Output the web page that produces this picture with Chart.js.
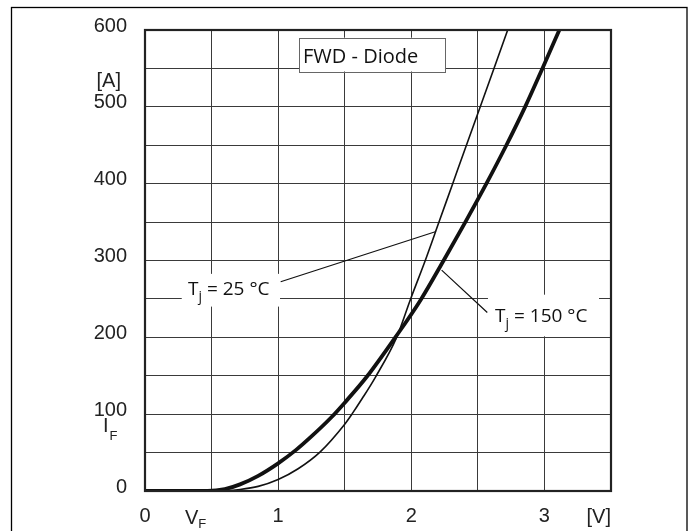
<!DOCTYPE html>
<html><head><meta charset="utf-8">
<script src="https://cdn.jsdelivr.net/npm/chart.js@4/dist/chart.umd.min.js"></script>
<style>html,body{margin:0;padding:0;background:#fff}#wrap{width:697px;height:531px}</style>
</head><body><div id="wrap"><canvas id="c" width="697" height="531"></canvas></div>
<script>
// Forward characteristic of the FWD diode: V_F [V] vs I_F [A]
const vF25  = [0, 0.5, 0.6, 0.714, 0.85, 1.0, 1.15, 1.316, 1.5, 1.554, 1.63, 1.73, 1.89, 1.995, 2.105, 2.208, 2.311, 2.414, 2.518, 2.621, 2.724];
const iF25  = [0, 0,   0.4, 2,     6,    15,  29,   51,    87,  100,   120,  148,  200,  250,   300,   350,   400,   450,   500,   550,   600];
const vF150 = [0, 0.47, 0.6, 0.714, 0.85, 1.0, 1.135, 1.25, 1.4, 1.5, 1.667, 1.88, 2.068, 2.243, 2.406, 2.564, 2.714, 2.855, 2.985, 3.112];
const iF150 = [0, 0,    2.4, 8.6,   19.7, 36,  53.5,  71,   96,  115, 149,   200,  248,   300,   350,   400,   450,   500,   550,   600];
const xTickValues = [0, 1, 2, 3];
const yTickValues = [0, 100, 200, 300, 400, 500, 600];
const seriesNames = ['T_j = 25 °C', 'T_j = 150 °C'];
const titleText = 'FWD - Diode';

const pts = (xs, ys) => xs.map((x, i) => ({x: x, y: ys[i]}));

const TICK_FAMILY = '"Liberation Sans", Arial, sans-serif';
const TICK_FONT = '20px ' + TICK_FAMILY;
const SUB_FONT = '13px ' + TICK_FAMILY;
const NOTE_FONT = '19px "Open Sans", sans-serif';
const TITLE_FONT = '20px "Open Sans", sans-serif';
const NOTE_SUB = '14px "Open Sans", sans-serif';
const INK = '#111';

function noteLabel(ctx, txt, x, y) {
  const parts = txt.split('_');
  const rest = parts[1].slice(1);
  ctx.font = NOTE_FONT; ctx.fillText(parts[0], x, y);
  let w = ctx.measureText(parts[0]).width;
  ctx.font = NOTE_SUB; ctx.fillText(parts[1][0], x + w, y + 6);
  w += ctx.measureText(parts[1][0]).width;
  ctx.font = NOTE_FONT; ctx.fillText(rest, x + w, y);
}

const deco = {
  id: 'deco',
  beforeDraw(chart) {
    const ctx = chart.ctx;
    ctx.save();
    ctx.fillStyle = '#fff'; ctx.fillRect(0, 0, chart.width, chart.height);
    ctx.strokeStyle = '#000'; ctx.lineWidth = 1.3;
    ctx.strokeRect(11.5, 7.5, 675.5, 540);
    ctx.restore();
  },
  beforeDatasetsDraw(chart) {
    const ctx = chart.ctx, X = chart.scales.x, Y = chart.scales.y;
    const px = v => X.getPixelForValue(v), py = v => Y.getPixelForValue(v);
    ctx.save();
    ctx.fillStyle = '#fff';
    ctx.fillRect(px(0.276), py(282.6), px(1.014) - px(0.276), py(240) - py(282.6));
    ctx.fillRect(px(2.576), py(255.5), px(3.41) - px(2.576), py(201.3) - py(255.5));
    ctx.strokeStyle = INK; ctx.lineWidth = 1.2;
    ctx.beginPath();
    ctx.moveTo(px(1.019), py(272.3)); ctx.lineTo(px(2.186), py(337.7));
    ctx.moveTo(px(2.571), py(232.3)); ctx.lineTo(px(2.228), py(287.4));
    ctx.stroke();
    const bx = px(1.157), by = py(590), bw = px(2.253) - bx, bh = py(546) - by;
    ctx.fillStyle = '#fff'; ctx.fillRect(bx, by, bw, bh);
    ctx.strokeStyle = '#666'; ctx.lineWidth = 1;
    ctx.strokeRect(Math.round(bx) + 0.5, Math.round(by) + 0.5, Math.round(bw), Math.round(bh));
    ctx.fillStyle = INK; ctx.textBaseline = 'alphabetic'; ctx.textAlign = 'left';
    ctx.font = TITLE_FONT; ctx.fillText(titleText, px(1.187), py(557.4));
    noteLabel(ctx, seriesNames[0], px(0.323), py(255.5));
    noteLabel(ctx, seriesNames[1], px(2.629), py(219.4));
    ctx.restore();
  },
  afterDatasetsDraw(chart) {
    const ctx = chart.ctx, a = chart.chartArea;
    ctx.save();
    ctx.strokeStyle = '#222'; ctx.lineWidth = 2.2;
    ctx.strokeRect(a.left, a.top, a.right - a.left, a.bottom - a.top);
    ctx.restore();
  },
  afterDraw(chart) {
    const ctx = chart.ctx, X = chart.scales.x, Y = chart.scales.y;
    ctx.save();
    ctx.fillStyle = '#222';
    ctx.textBaseline = 'alphabetic';
    ctx.font = TICK_FONT;
    ctx.textAlign = 'right';
    ctx.fillText('[A]', 121, Y.getPixelForValue(535) + 7);
    ctx.fillText('[V]', X.getPixelForValue(3.5), 523);
    ctx.textAlign = 'left';
    const yI = Y.getPixelForValue(86) + 7;
    ctx.fillText('I', 103, yI);
    const wI = ctx.measureText('I').width;
    const xV = X.getPixelForValue(0.3);
    ctx.fillText('V', xV, 524);
    const wV = ctx.measureText('V').width;
    ctx.font = SUB_FONT;
    ctx.fillText('F', 103 + wI + 1, yI + 8);
    ctx.fillText('F', xV + wV, 528);
    ctx.restore();
  }
};

new Chart(document.getElementById('c'), {
  type: 'line',
  data: {
    datasets: [
      { label: seriesNames[0], data: pts(vF25, iF25), borderColor: INK, borderWidth: 1.6, pointRadius: 0, cubicInterpolationMode: 'monotone', fill: false },
      { label: seriesNames[1], data: pts(vF150, iF150), borderColor: INK, borderWidth: 3.8, pointRadius: 0, cubicInterpolationMode: 'monotone', fill: false }
    ]
  },
  options: {
    responsive: false, animation: false,
    layout: { padding: { left: 0, top: 26, right: 86, bottom: 0 } },
    plugins: { legend: { display: false }, tooltip: { enabled: false } },
    scales: {
      x: {
        type: 'linear', min: 0, max: 3.5,
        afterFit: s => { s.height = 40; },
        grid: { color: '#3a3a3a', lineWidth: 1, drawTicks: false },
        border: { display: false },
        ticks: { stepSize: 0.5, padding: 13, color: '#222', font: { family: TICK_FAMILY, size: 20 },
                 maxRotation: 0, autoSkip: false,
                 callback: v => xTickValues.includes(v) ? String(v) : '' }
      },
      y: {
        type: 'linear', min: 0, max: 600,
        afterFit: s => { s.width = 145; },
        grid: { color: '#3a3a3a', lineWidth: 1, drawTicks: false },
        border: { display: false },
        ticks: { stepSize: 50, padding: 18, labelOffset: -4, color: '#222', font: { family: TICK_FAMILY, size: 20 },
                 autoSkip: false,
                 callback: v => yTickValues.includes(v) ? String(v) : '' }
      }
    }
  },
  plugins: [deco]
});
</script>
</body></html>
